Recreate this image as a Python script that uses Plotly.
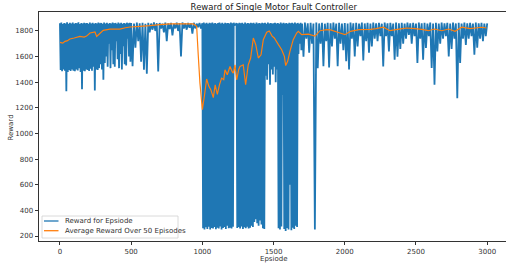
import plotly.graph_objects as go

# Reward per episode.
# Episodes 0-495 and 1000-1695 are sampled every 5 episodes, the rest every 10.
reward_0000_0495 = [1860, 1495, 1866, 1485, 1855, 1500, 1862, 1490, 1858, 1330,
                    1868, 1480, 1856, 1495, 1864, 1488, 1859, 1500, 1866, 1490,
                    1857, 1485, 1863, 1500, 1860, 1492, 1867, 1510, 1855, 1480,
                    1862, 1345, 1858, 1490, 1865, 1485, 1860, 1500, 1863, 1495,
                    1856, 1488, 1866, 1505, 1859, 1490, 1864, 1520, 1857, 1335,
                    1862, 1500, 1858, 1495, 1866, 1510, 1860, 1540, 1863, 1500,
                    1856, 1420, 1866, 1550, 1859, 1600, 1864, 1520, 1857, 1700,
                    1862, 1510, 1858, 1650, 1865, 1540, 1860, 1520, 1863, 1720,
                    1856, 1580, 1866, 1510, 1859, 1620, 1864, 1500, 1857, 1680,
                    1862, 1540, 1858, 1530, 1865, 1740, 1860, 1600, 1863, 1560]
reward_0500_0990 = [1862, 1525, 1858, 1670, 1866, 1720, 1860, 1560, 1864, 1498,
                    1857, 1466, 1863, 1790, 1858, 1810, 1866, 1800, 1860, 1484,
                    1862, 1820, 1857, 1790, 1865, 1720, 1859, 1815, 1863, 1765,
                    1856, 1820, 1864, 1800, 1860, 1602, 1866, 1820, 1858, 1810,
                    1862, 1825, 1859, 1780, 1864, 1820, 1857, 1830, 1862, 1820]
reward_1000_1495 = [1860, 260, 1866, 250, 1858, 268, 1864, 255, 1857, 272,
                    1865, 250, 1860, 262, 1867, 258, 1858, 270, 1863, 252,
                    1856, 265, 1862, 258, 1866, 275, 1859, 250, 1864, 262,
                    1857, 270, 1865, 255, 1860, 280, 1863, 260, 1858, 265,
                    1866, 258, 1860, 272, 1864, 1840, 1857, 1845, 1863, 262,
                    1858, 270, 1865, 258, 1860, 275, 1864, 255, 1857, 268,
                    1866, 260, 1859, 272, 1863, 258, 1858, 265, 1865, 280,
                    1860, 270, 1864, 310, 1857, 330, 1866, 300, 1859, 280,
                    1863, 320, 1858, 290, 1865, 260, 1860, 255, 1864, 1450,
                    1857, 1420, 1866, 1540, 1859, 1380, 1863, 1500, 1858, 1460]
reward_1500_1695 = [1860, 1520, 1865, 1400, 1858, 1500, 1863, 260, 1857, 250,
                    1866, 275, 1859, 1300, 1864, 255, 1858, 240, 1862, 262,
                    1857, 250, 1865, 600, 1860, 245, 1864, 265, 1858, 255,
                    1866, 280, 1859, 270, 1863, 1620, 1857, 1700, 1864, 1650]
reward_1700_1990 = [1857, 1600, 1865, 1740, 1860, 1630, 1864, 1700, 1858, 250,
                    1866, 1510, 1859, 1700, 1863, 1525, 1857, 1720, 1864, 1515,
                    1860, 1680, 1866, 1740, 1858, 1525, 1863, 1700, 1857, 1650]
reward_2000_2490 = [1862, 1563, 1858, 1500, 1865, 1740, 1860, 1602, 1864, 1680,
                    1857, 1760, 1866, 1570, 1859, 1720, 1863, 1630, 1858, 1680,
                    1865, 1740, 1860, 1720, 1864, 1760, 1857, 1523, 1866, 1760,
                    1859, 1640, 1863, 1760, 1858, 1576, 1865, 1600, 1860, 1660,
                    1864, 1700, 1857, 1740, 1866, 1770, 1859, 1700, 1863, 1760]
reward_2500_3000 = [1858, 1550, 1865, 1740, 1860, 1576, 1864, 1667, 1857, 1760,
                    1866, 1511, 1859, 1380, 1863, 1641, 1858, 1700, 1865, 1740,
                    1860, 1760, 1864, 1602, 1857, 1660, 1866, 1740, 1859, 1276,
                    1863, 1550, 1858, 1740, 1865, 1690, 1860, 1740, 1864, 1760,
                    1857, 1615, 1866, 1670, 1859, 1740, 1863, 1720, 1858, 1760,
                    1860]
episodes = (list(range(0, 500, 5)) + list(range(500, 1000, 10)) +
            list(range(1000, 1700, 5)) + list(range(1700, 3001, 10)))

# 50-episode moving average (read at selected episodes)
avg_episodes = [0, 20, 35, 50, 70, 100, 140, 170, 187, 211, 246, 258, 280, 304, 351,
                421, 460, 492, 562, 632, 702, 772, 850, 936, 960, 971, 983, 1000,
                1015, 1030, 1045, 1060, 1077, 1090, 1105, 1120, 1135, 1150, 1159,
                1175, 1194, 1210, 1217, 1229, 1241, 1255, 1264, 1287, 1304, 1322,
                1339, 1358, 1375, 1393, 1412, 1428, 1452, 1470, 1490, 1505, 1534,
                1557, 1576, 1585, 1599, 1615, 1638, 1662, 1674, 1697, 1744, 1791,
                1826, 1873, 1900, 1966, 2001, 2040, 2100, 2180, 2220, 2271, 2317,
                2370, 2434, 2493, 2540, 2587, 2630, 2680, 2730, 2774, 2821, 2880,
                2961, 2996]
avg_reward = [1711, 1705, 1719, 1722, 1737, 1745, 1758, 1752, 1760, 1784, 1792, 1758,
              1780, 1805, 1815, 1815, 1825, 1831, 1836, 1841, 1849, 1855, 1856, 1855,
              1836, 1614, 1393, 1185, 1300, 1425, 1370, 1340, 1280, 1380, 1305, 1380,
              1432, 1420, 1497, 1458, 1523, 1480, 1471, 1536, 1419, 1500, 1523, 1536,
              1380, 1536, 1589, 1745, 1693, 1589, 1614, 1732, 1790, 1800, 1760, 1745,
              1693, 1654, 1602, 1530, 1563, 1641, 1732, 1784, 1797, 1771, 1775, 1760,
              1802, 1810, 1808, 1784, 1771, 1797, 1810, 1812, 1818, 1829, 1802, 1812,
              1823, 1818, 1812, 1802, 1815, 1802, 1815, 1797, 1829, 1818, 1829, 1823]

x_ticks = [0, 500, 1000, 1500, 2000, 2500, 3000]
y_ticks = [200, 400, 600, 800, 1000, 1200, 1400, 1600, 1800]

series_names = ["Reward for Epsiode", "Average Reward Over 50 Episodes"]
series_colors = ["#1f77b4", "#ff7f0e"]

reward = (reward_0000_0495 + reward_0500_0990 + reward_1000_1495 + reward_1500_1695 +
          reward_1700_1990 + reward_2000_2490 + reward_2500_3000)

fig = go.Figure()
fig.add_trace(go.Scatter(x=episodes, y=reward, mode="lines",
                         line=dict(color=series_colors[0], width=1.8, simplify=False),
                         name=series_names[0], showlegend=False))
fig.add_trace(go.Scatter(x=avg_episodes, y=avg_reward, mode="lines",
                         line=dict(color=series_colors[1], width=1.2, simplify=False),
                         name=series_names[1], showlegend=False))

axis_common = dict(showgrid=False, zeroline=False, ticks="outside", ticklen=3.5,
                   tickwidth=0.8, tickcolor="#333", linecolor="#333", linewidth=0.8,
                   showline=True, automargin=False,
                   tickfont=dict(family="DejaVu Sans", size=7, color="#333"))

# plot area in pixels: x 39..506, y 12..241
def px_x(px):
    return (px - 39) / 467.0

def px_y(py):
    return (241 - py) / 229.0

shapes = [
    dict(type="rect", xref="paper", yref="paper",
         x0=px_x(42), x1=px_x(178), y0=px_y(238), y1=px_y(216),
         line=dict(color="#d0d0d0", width=0.8), fillcolor="rgba(255,255,255,0.85)",
         layer="above"),
]
annotations = [
    dict(text="Epsiode", xref="paper", yref="paper", x=px_x(274), y=px_y(258.5),
         xanchor="center", yanchor="middle", showarrow=False,
         font=dict(family="DejaVu Sans", size=7, color="#333")),
    dict(text="Reward", xref="paper", yref="paper", x=px_x(10.5), y=px_y(128),
         xanchor="center", yanchor="middle", textangle=-90, showarrow=False,
         font=dict(family="DejaVu Sans", size=7, color="#333")),
]
for k, (name, color) in enumerate(zip(series_names, series_colors)):
    row_y = px_y(221 + k * 9.7)
    shapes.append(dict(type="line", xref="paper", yref="paper",
                       x0=px_x(44), x1=px_x(58.5), y0=row_y, y1=row_y,
                       line=dict(color=color, width=1.3), layer="above"))
    annotations.append(dict(text=name, xref="paper", yref="paper", x=px_x(62.5), y=row_y,
                            xanchor="left", yanchor="middle", showarrow=False,
                            font=dict(family="DejaVu Sans", size=7, color="#333")))

fig.update_layout(
    width=506, height=271,
    margin=dict(l=39, r=0, t=12, b=30),
    paper_bgcolor="white", plot_bgcolor="white",
    font=dict(family="DejaVu Sans", size=7, color="#333"),
    title=dict(text="Reward of Single Motor Fault Controller", x=0.541, xanchor="center",
               y=0.985, yanchor="top", font=dict(family="DejaVu Sans", size=8.5, color="#222")),
    xaxis=dict(range=[-147, 3132], tickvals=x_ticks, mirror=True, **axis_common),
    yaxis=dict(range=[161, 1948], tickvals=y_ticks, **axis_common),
    showlegend=False,
    shapes=shapes,
    annotations=annotations,
)

fig.write_html("out.html", config={"displayModeBar": False},
               post_script="document.body.style.margin='0';document.body.style.padding='0';")
